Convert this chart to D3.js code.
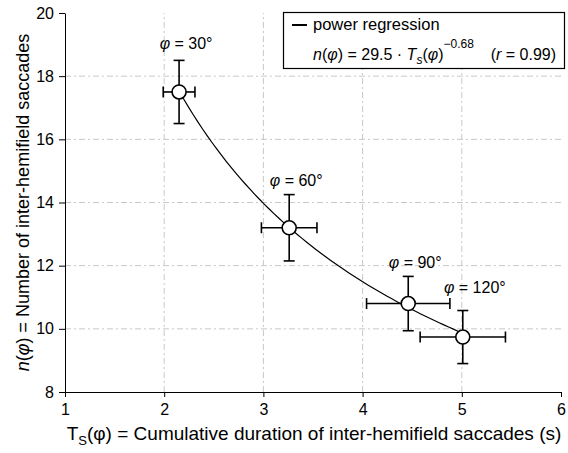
<!DOCTYPE html>
<html>
<head>
<meta charset="utf-8">
<script src="https://cdn.jsdelivr.net/npm/d3@7/dist/d3.min.js"></script>
<style>
  body { margin: 0; background: #fff; }
  text { font-family: "Liberation Sans", Arial, Helvetica, sans-serif; fill: #000; }
  .grid line { stroke: #c8c8c8; stroke-width: 1; stroke-dasharray: 6,3,2,3; }
  .axis path, .axis line { stroke: #000; stroke-width: 1; }
  .axis text { font-size: 16px; }
</style>
</head>
<body>
<script>
var width = 568,
    height = 453;

// data
var angles = [30, 60, 90, 120];
var tsValues = [2.15, 3.26, 4.46, 5.01];
var tsErr = [0.16, 0.28, 0.42, 0.43];
var nValues = [17.5, 13.2, 10.8, 9.74];
var nErr = [1.0, 1.05, 0.86, 0.84];

var xTicks = [1, 2, 3, 4, 5, 6];
var yTicks = [8, 10, 12, 14, 16, 18, 20];

// power regression from the legend
var fitA = 29.5, fitB = -0.68, fitR = 0.99;

var margin = {top: 13, right: 7, bottom: 61, left: 65};

var svg = d3.select("body").append("svg")
    .attr("width", width)
    .attr("height", height);

var x = d3.scaleLinear().domain([1, 6]).range([margin.left, width - margin.right]);
var y = d3.scaleLinear().domain([8, 20]).range([height - margin.bottom, margin.top]);

// grid
var grid = svg.append("g").attr("class", "grid");
grid.selectAll(".gx")
    .data(xTicks.slice(1, -1))
    .enter().append("line")
    .attr("x1", function(d) { return x(d); })
    .attr("x2", function(d) { return x(d); })
    .attr("y1", y(8))
    .attr("y2", y(20));
grid.selectAll(".gy")
    .data(yTicks.slice(1, -1))
    .enter().append("line")
    .attr("x1", x(1))
    .attr("x2", x(6))
    .attr("y1", function(d) { return y(d); })
    .attr("y2", function(d) { return y(d); });

// axes
svg.append("g")
    .attr("class", "axis")
    .attr("transform", "translate(0," + y(8) + ")")
    .call(d3.axisBottom(x).tickValues(xTicks).tickFormat(d3.format("d"))
        .tickSize(5).tickSizeOuter(0).tickPadding(7));

svg.append("g")
    .attr("class", "axis")
    .attr("transform", "translate(" + x(1) + ",0)")
    .call(d3.axisLeft(y).tickValues(yTicks).tickFormat(d3.format("d"))
        .tickSize(6).tickSizeOuter(0).tickPadding(5));

// regression curve
var curveXs = d3.range(0, 61).map(function(i) {
    return tsValues[0] + (tsValues[tsValues.length - 1] - tsValues[0]) * i / 60;
});
var line = d3.line()
    .x(function(d) { return x(d); })
    .y(function(d) { return y(fitA * Math.pow(d, fitB)); });

svg.append("path")
    .datum(curveXs)
    .attr("d", line)
    .attr("fill", "none")
    .attr("stroke", "#000")
    .attr("stroke-width", 1.2);

var points = angles.map(function(a, i) {
    return {angle: a, ts: tsValues[i], te: tsErr[i], n: nValues[i], ne: nErr[i]};
});

var cap = 5.5;
var pt = svg.selectAll(".pt")
    .data(points)
    .enter().append("g")
    .attr("class", "pt");

pt.append("line")
    .attr("x1", function(d) { return x(d.ts - d.te); })
    .attr("x2", function(d) { return x(d.ts + d.te); })
    .attr("y1", function(d) { return y(d.n); })
    .attr("y2", function(d) { return y(d.n); });
pt.append("line")
    .attr("x1", function(d) { return x(d.ts); })
    .attr("x2", function(d) { return x(d.ts); })
    .attr("y1", function(d) { return y(d.n - d.ne); })
    .attr("y2", function(d) { return y(d.n + d.ne); });
// caps
pt.append("line")
    .attr("x1", function(d) { return x(d.ts - d.te); })
    .attr("x2", function(d) { return x(d.ts - d.te); })
    .attr("y1", function(d) { return y(d.n) - cap; })
    .attr("y2", function(d) { return y(d.n) + cap; });
pt.append("line")
    .attr("x1", function(d) { return x(d.ts + d.te); })
    .attr("x2", function(d) { return x(d.ts + d.te); })
    .attr("y1", function(d) { return y(d.n) - cap; })
    .attr("y2", function(d) { return y(d.n) + cap; });
pt.append("line")
    .attr("x1", function(d) { return x(d.ts) - cap; })
    .attr("x2", function(d) { return x(d.ts) + cap; })
    .attr("y1", function(d) { return y(d.n + d.ne); })
    .attr("y2", function(d) { return y(d.n + d.ne); });
pt.append("line")
    .attr("x1", function(d) { return x(d.ts) - cap; })
    .attr("x2", function(d) { return x(d.ts) + cap; })
    .attr("y1", function(d) { return y(d.n - d.ne); })
    .attr("y2", function(d) { return y(d.n - d.ne); });
pt.selectAll("line")
    .attr("stroke", "#000")
    .attr("stroke-width", 1.6);

pt.append("circle")
    .attr("cx", function(d) { return x(d.ts); })
    .attr("cy", function(d) { return y(d.n); })
    .attr("r", 7)
    .attr("fill", "#fff")
    .attr("stroke", "#000")
    .attr("stroke-width", 1.6);

// point labels (little nudges to sit like the original)
var labelDx = [7, 7, 7, 12];
var labelDy = [-11, -9, -8, -18];
var lab = pt.append("text")
    .attr("x", function(d, i) { return x(d.ts) + labelDx[i]; })
    .attr("y", function(d, i) { return y(d.n + d.ne) + labelDy[i]; })
    .attr("text-anchor", "middle")
    .style("font-size", "16px");
lab.append("tspan").style("font-style", "italic").text("\u03c6");
lab.append("tspan").text(function(d) { return " = " + d.angle + "\u00b0"; });

// legend
var lg = svg.append("g");
lg.append("rect")
    .attr("x", 283.5)
    .attr("y", 12.5)
    .attr("width", 281)
    .attr("height", 56)
    .attr("fill", "#fff")
    .attr("stroke", "#000")
    .attr("stroke-width", 1.2);
lg.append("line")
    .attr("x1", 292).attr("x2", 307)
    .attr("y1", 25).attr("y2", 25)
    .attr("stroke", "#000")
    .attr("stroke-width", 2);
lg.append("text")
    .attr("x", 313).attr("y", 30)
    .style("font-size", "16.5px")
    .text("power regression");

var eq = lg.append("text")
    .attr("x", 313).attr("y", 60)
    .style("font-size", "16px");
eq.append("tspan").style("font-style", "italic").text("n");
eq.append("tspan").text("(");
eq.append("tspan").style("font-style", "italic").text("\u03c6");
eq.append("tspan").text(") = " + fitA + " \u00b7 ");
eq.append("tspan").style("font-style", "italic").text("T");
eq.append("tspan").style("font-style", "italic").style("font-size", "12px").attr("dy", 4).text("s");
eq.append("tspan").attr("dy", -4).text("(");
eq.append("tspan").style("font-style", "italic").text("\u03c6");
eq.append("tspan").text(")");
eq.append("tspan").style("font-size", "12px").attr("dy", -12).text("\u2212" + Math.abs(fitB).toFixed(2));

var rt = lg.append("text")
    .attr("x", 556).attr("y", 60)
    .attr("text-anchor", "end")
    .style("font-size", "16px");
rt.append("tspan").text("(");
rt.append("tspan").style("font-style", "italic").text("r");
rt.append("tspan").text(" = " + fitR + ")");

// axis titles
var xt = svg.append("text")
    .attr("x", 314)
    .attr("y", 440)
    .attr("text-anchor", "middle")
    .style("font-size", "19px");
xt.append("tspan").text("T");
xt.append("tspan").style("font-size", "13px").attr("dy", 5).text("S");
xt.append("tspan").attr("dy", -5).text("(\u03c6) = Cumulative duration of inter-hemifield saccades (s)");

var yt = svg.append("text")
    .attr("transform", "translate(29," + (margin.top + (height - margin.bottom - margin.top) / 2) + ") rotate(-90)")
    .attr("text-anchor", "middle")
    .style("font-size", "18px");
yt.append("tspan").style("font-style", "italic").text("n");
yt.append("tspan").text("(");
yt.append("tspan").style("font-style", "italic").text("\u03c6");
yt.append("tspan").text(") = Number of inter-hemifield saccades");
</script>
</body>
</html>
